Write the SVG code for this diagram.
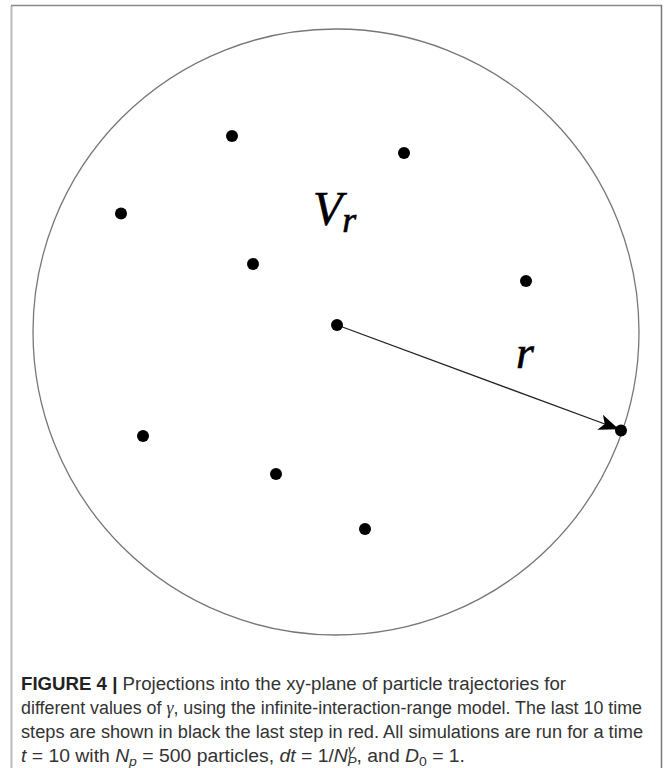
<svg xmlns="http://www.w3.org/2000/svg" width="664" height="768" viewBox="0 0 664 768">
<style>
.dot{fill:#000}
.cap{font-family:"Liberation Sans",Arial,sans-serif;font-size:18px;fill:#333}
.math{font-family:"Liberation Serif","Times New Roman",serif;font-style:italic;fill:#000;stroke:#000;stroke-width:0.6}
</style>
<defs>
<marker id="barb" viewBox="0 0 20 16" refX="18" refY="8" markerWidth="20" markerHeight="16" markerUnits="userSpaceOnUse" orient="auto">
<path d="M0,0 L20,8 L0,16 L5,8 Z" fill="#000"/>
</marker>
</defs>
<rect width="664" height="768" fill="#fff"/>
<g id="frame">
<line x1="11.5" y1="6" x2="11.5" y2="768" stroke="#bbb" stroke-width="2"/>
<line x1="11" y1="5.5" x2="662" y2="5.5" stroke="#888" stroke-width="1.5"/>
<line x1="661.5" y1="5" x2="661.5" y2="768" stroke="#777" stroke-width="1.5"/>
</g>
<g id="circle">
<circle cx="336" cy="332" r="303" fill="none" stroke="#777" stroke-width="1.3"/>
</g>
<g id="connectors">
<line x1="337" y1="325" x2="617" y2="428.5" stroke="#222" stroke-width="1.3" marker-end="url(#barb)"/>
</g>
<g id="particles">
<circle id="p1" class="dot" cx="232" cy="136" r="6"/>
<circle id="p2" class="dot" cx="404" cy="153" r="6"/>
<circle id="p3" class="dot" cx="121" cy="213.5" r="6"/>
<circle id="p4" class="dot" cx="253" cy="264" r="6"/>
<circle id="p5" class="dot" cx="526" cy="281" r="6"/>
<circle id="center" class="dot" cx="337" cy="325" r="6"/>
<circle id="p7" class="dot" cx="143" cy="436" r="6"/>
<circle id="p8" class="dot" cx="276" cy="474" r="6"/>
<circle id="p9" class="dot" cx="365" cy="529" r="6"/>
<circle id="edge" class="dot" cx="621" cy="430.5" r="6"/>
</g>
<g id="labels">
<text class="math" x="313" y="225" font-size="48">V<tspan font-size="36" dy="7">r</tspan></text>
<text class="math" x="516" y="368" font-size="46">r</text>
</g>
<g id="caption">
<text class="cap" x="21" y="690" textLength="545" lengthAdjust="spacingAndGlyphs"><tspan font-weight="bold" fill="#222">FIGURE 4 |</tspan> Projections into the xy-plane of particle trajectories for</text>
<text class="cap" x="21" y="714" textLength="621" lengthAdjust="spacingAndGlyphs">different values of <tspan font-family="Liberation Serif" font-style="italic">γ</tspan>, using the infinite-interaction-range model. The last 10 time</text>
<text class="cap" x="21" y="738" textLength="622" lengthAdjust="spacingAndGlyphs">steps are shown in black the last step in red. All simulations are run for a time</text>
<text class="cap" x="21" y="762" textLength="444" lengthAdjust="spacingAndGlyphs"><tspan font-style="italic">t</tspan> = 10 with <tspan font-style="italic">N</tspan><tspan font-style="italic" font-size="13" dy="4">p</tspan><tspan dy="-4"> = 500 particles, </tspan><tspan font-style="italic">dt</tspan> = 1/<tspan font-style="italic">N</tspan><tspan font-style="italic" font-size="13" dy="-8">γ</tspan><tspan font-style="italic" font-size="13" dy="12" dx="-7">P</tspan><tspan dy="-4">, and </tspan><tspan font-style="italic">D</tspan><tspan font-size="13" dy="4">0</tspan><tspan dy="-4"> = 1.</tspan></text>
</g>
</svg>
